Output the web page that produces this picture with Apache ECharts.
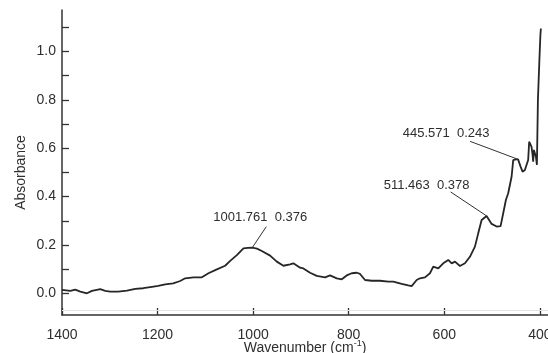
<!DOCTYPE html>
<html>
<head>
<meta charset="utf-8">
<script src="https://cdn.jsdelivr.net/npm/echarts@6/dist/echarts.min.js"></script>
<style>
  html, body { margin: 0; padding: 0; background: #fff; }
  #chart { width: 548px; height: 353px; }
</style>
</head>
<body>
<div id="chart"></div>
<script>
// IR absorbance spectrum, 1400–400 cm-1
const wavenumber = [
  1400, 1382.6, 1372.2, 1361.7, 1347.7, 1337.3, 1319.9, 1309.5, 1299.0, 1282.3,
  1264.1, 1246.7, 1230.0, 1211.8, 1198.7, 1184.0, 1167.3, 1152.7, 1142.2, 1124.9,
  1107.3, 1093.5, 1075.9, 1058.6, 1048.1, 1034.1, 1020.3, 1011.0, 1001.8, 992.0,
  981.9, 964.5, 950.5, 936.7, 922.7, 915.8, 901.8, 894.9, 880.9, 866.9,
  849.5, 839.1, 825.1, 814.6, 804.2, 793.7, 783.2, 776.3, 765.9, 751.9,
  734.5, 717.2, 706.7, 689.2, 675.4, 668.3, 657.8, 650.9, 640.4, 630.0,
  623.1, 612.6, 602.2, 591.7, 584.6, 577.7, 567.3, 556.8, 546.4, 535.9,
  529.0, 521.9, 511.5, 501.0, 490.5, 482.2, 476.7, 471.1, 466.3, 459.2,
  455.8, 450.2, 445.6, 440.4, 436.2, 431.4, 427.8, 424.5, 422.4, 419.5,
  417.4, 415.3, 414.0, 412.5, 410.4, 408.3, 406.2, 404.1, 401.0, 398.9,
  397.9
];
const absorbance = [
  0.014, 0.010, 0.015, 0.007, 0.000, 0.010, 0.017, 0.010, 0.007, 0.007,
  0.011, 0.018, 0.021, 0.027, 0.031, 0.037, 0.041, 0.051, 0.062, 0.066,
  0.066, 0.083, 0.099, 0.114, 0.134, 0.158, 0.186, 0.188, 0.189, 0.185,
  0.175, 0.156, 0.131, 0.114, 0.120, 0.124, 0.106, 0.103, 0.085, 0.072,
  0.066, 0.074, 0.062, 0.058, 0.074, 0.083, 0.085, 0.080, 0.055, 0.052,
  0.052, 0.048, 0.048, 0.039, 0.033, 0.030, 0.055, 0.062, 0.066, 0.083,
  0.110, 0.103, 0.124, 0.138, 0.124, 0.131, 0.113, 0.124, 0.151, 0.193,
  0.248, 0.303, 0.320, 0.287, 0.276, 0.278, 0.331, 0.386, 0.414, 0.482,
  0.551, 0.554, 0.554, 0.524, 0.503, 0.510, 0.503, 0.551, 0.627, 0.623,
  0.606, 0.572, 0.544, 0.593, 0.600, 0.565, 0.531, 0.800, 0.965, 1.068,
  1.095
];

// Marked peaks: position on the curve and the printed readout
const peakWavenumber = [1001.761, 511.463, 445.571];
const peakAbsorbance = [0.189, 0.320, 0.554];
const peakReadout = ['0.376', '0.378', '0.243'];

// Axis ticks and labels
const xTickValues = [400, 600, 800, 1000, 1200, 1400];
const yLabelValues = [0.0, 0.2, 0.4, 0.6, 0.8, 1.0];
const yTickValues = [0.0, 0.1, 0.2, 0.3, 0.4, 0.5, 0.6, 0.7, 0.8, 0.9, 1.0, 1.1];

// Pixel offsets of each callout (leader end and text centre) from its peak
const calloutOffsets = [
  { line: [14, -21], text: [8, -30] },
  { line: [-36, -24], text: [-60, -31] },
  { line: [-48, -18], text: [-72, -26] }
];

const FONT = '"Liberation Sans", Arial, Helvetica, sans-serif';
const INK = '#262626';
const TEXT = '#2e2e2e';

const chart = echarts.init(document.getElementById('chart'), null, { renderer: 'canvas' });

chart.setOption({
  animation: false,
  backgroundColor: '#ffffff',
  grid: { left: 62, right: 0, top: 10, bottom: 38, containLabel: false, outerBoundsMode: 'none' },
  xAxis: {
    type: 'value',
    inverse: true,
    min: 383,
    max: 1400,
    name: '{t|Wavenumber (cm}{s|-1}{t|)}',
    nameLocation: 'middle',
    nameGap: 24,
    nameMoveOverlap: false,
    nameTextStyle: {
      rich: {
        t: { fontSize: 14, fontFamily: FONT, color: TEXT, lineHeight: 16, verticalAlign: 'bottom' },
        s: { fontSize: 9, fontFamily: FONT, color: TEXT, lineHeight: 16, verticalAlign: 'top', padding: [0, 0, 8, 0] }
      }
    },
    axisLine: { show: true, onZero: false, lineStyle: { color: '#333', width: 1.5 } },
    axisTick: { show: true, inside: true, length: 7, customValues: xTickValues, lineStyle: { color: '#333', width: 1.3 } },
    axisLabel: {
      show: true, customValues: xTickValues, margin: 13, fontSize: 14, fontFamily: FONT, color: TEXT,
      formatter: v => String(v)
    },
    splitLine: { show: false }
  },
  yAxis: {
    type: 'value',
    min: -0.0897,
    max: 1.1717,
    name: 'Absorbance',
    nameLocation: 'middle',
    nameGap: 34,
    nameMoveOverlap: false,
    nameTextStyle: { fontSize: 14, fontFamily: FONT, color: TEXT, padding: [0, 20, 0, 0] },
    axisLine: { show: true, onZero: false, lineStyle: { color: '#333', width: 1.5 } },
    axisTick: { show: true, inside: true, length: 7, customValues: yTickValues, lineStyle: { color: '#333', width: 1.3 } },
    axisLabel: {
      show: true, customValues: yLabelValues, margin: 6, fontSize: 14, fontFamily: FONT, color: TEXT,
      formatter: v => v.toFixed(1)
    },
    splitLine: { show: false }
  },
  series: [
    {
      name: 'Absorbance',
      type: 'line',
      data: wavenumber.map((w, i) => [w, absorbance[i]]),
      showSymbol: false,
      symbol: 'none',
      smooth: false,
      lineStyle: { color: INK, width: 1.8 },
      markLine: {
        silent: true,
        symbol: 'none',
        label: { show: false },
        lineStyle: { color: '#e4e4e4', width: 1, type: 'solid' },
        data: [{ yAxis: -0.066 }]
      },
      z: 3
    },
    {
      name: 'Peaks',
      type: 'custom',
      coordinateSystem: 'cartesian2d',
      clip: false,
      data: peakWavenumber.map((w, i) => [w, peakAbsorbance[i], i]),
      renderItem: (params, api) => {
        const p = api.coord([api.value(0), api.value(1)]);
        const i = api.value(2);
        const o = calloutOffsets[i];
        return {
          type: 'group',
          children: [
            {
              type: 'line',
              shape: { x1: p[0], y1: p[1], x2: p[0] + o.line[0], y2: p[1] + o.line[1] },
              style: { stroke: '#333', lineWidth: 1 }
            },
            {
              type: 'text',
              x: p[0] + o.text[0],
              y: p[1] + o.text[1],
              style: {
                text: peakWavenumber[i].toFixed(3) + '  ' + peakReadout[i],
                align: 'center',
                verticalAlign: 'middle',
                fontSize: 13,
                fontFamily: FONT,
                fill: TEXT
              }
            }
          ]
        };
      },
      z: 4
    }
  ]
});
</script>
</body>
</html>
